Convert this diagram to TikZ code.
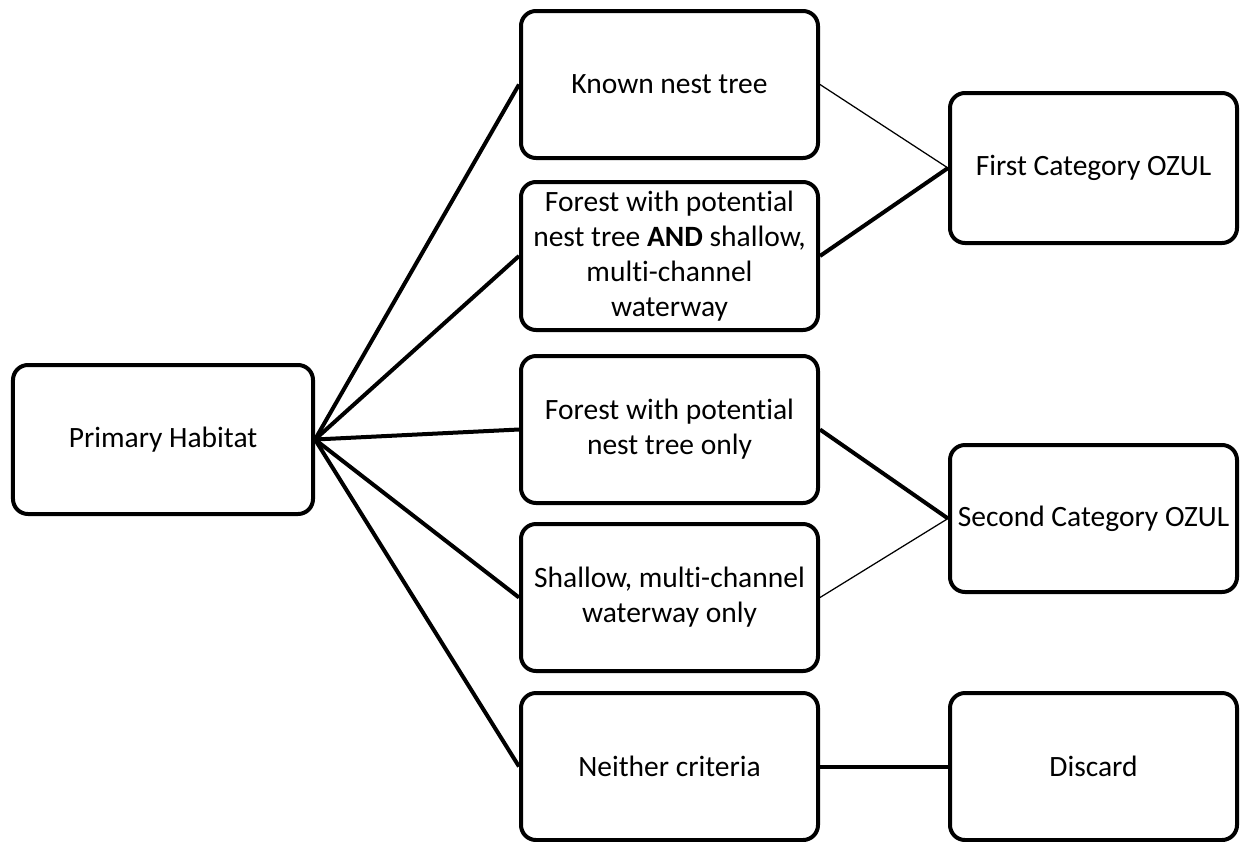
\documentclass[tikz,border=0pt]{standalone}
\usepackage{fontspec}
\setmainfont{Carlito}[Ligatures=NoCommon]
\usepackage{tikz}
\usetikzlibrary{positioning}

\begin{document}
\begin{tikzpicture}[x=0.4pt,y=-0.4pt,
    box/.style={draw,line width=1.6pt,rounded corners=6pt,align=center,
      inner sep=0pt,minimum height=58.8pt,font=\fontsize{11.8}{14}\selectfont},
    wide/.style={box,minimum width=118.8pt},
    thick link/.style={line width=1.6pt},
    thin link/.style={line width=0.5pt}]
  \useasboundingbox (0,0) rectangle (1240,841);

  % Boxes
  \node[box,minimum width=120pt,minimum height=59.6pt] (habitat) at (163,439.5) {Primary Habitat};
  \node[wide] (known) at (669.5,84.5) {Known nest tree};
  \node[wide,minimum height=59.2pt] (both) at (669.5,256) {Forest with potential\\nest tree \textbf{AND} shallow,\\multi-channel\\waterway};
  \node[wide] (forest) at (669.5,429.5) {Forest with potential\\nest tree only};
  \node[wide] (water) at (669.5,597.5) {Shallow, multi-channel\\waterway only};
  \node[wide] (neither) at (669.5,766.5) {Neither criteria};
  \node[box,minimum width=114.8pt,minimum height=60pt] (first) at (1093.5,168) {First Category OZUL};
  \node[box,minimum width=114.8pt] (second) at (1093.5,518.5) {Second Category OZUL};
  \node[box,minimum width=114.8pt] (discard) at (1093.5,766.5) {Discard};

  % Links
  \foreach \m in {known,both,forest,water,neither}
    \draw[thick link] (habitat.east) -- (\m.west);
  \draw[thin link] (known.east) -- (first.west);
  \draw[thick link] (both.east) -- (first.west);
  \draw[thick link] (forest.east) -- (second.west);
  \draw[thin link] (water.east) -- (second.west);
  \draw[thick link] (neither) -- (discard);
\end{tikzpicture}
\end{document}
